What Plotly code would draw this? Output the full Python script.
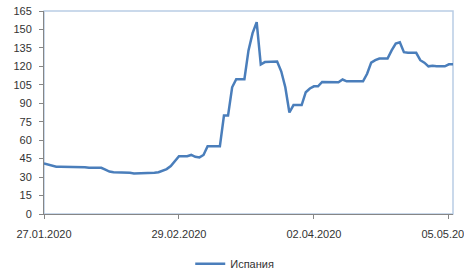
import plotly.graph_objects as go
import pandas as pd

start_date = "2020-01-27"
values = [41, 40, 39, 38.5, 38.5, 38.5, 38.5, 38.5, 38.5, 38.5,
          38, 37.5, 37.5, 37.5, 37.5, 36, 34.5, 34, 34, 34,
          34, 33.5, 33, 33, 33.5, 33.5, 33.5, 33.5, 34, 35,
          36.5, 39, 43, 47, 47, 47, 48, 46.5, 46, 48,
          55, 55, 55, 55, 80, 80, 103, 109.5, 109.5, 109.5,
          133, 147, 156, 121.5, 123.5, 123.5, 123.5, 124, 116, 103,
          82.5, 88.5, 88.5, 88.5, 99, 102, 103.8, 103.8, 107.3, 107.3,
          107.3, 107, 107, 109.3, 107.8, 107.8, 107.8, 107.8, 107.8, 114,
          123, 125, 126.4, 126.4, 126.4, 133, 138.5, 139.5, 131.5, 131,
          131, 131, 125, 123, 120, 120.5, 120, 120, 120, 121.7,
          121.7]
dates = pd.date_range(start_date, periods=len(values), freq="D")
series_name = "Испания"
tick_dates = ["2020-01-27", "2020-02-29", "2020-04-02", "2020-05-05"]
tick_labels = ["27.01.2020", "29.02.2020", "02.04.2020", "05.05.2020"]
y_ticks = list(range(0, 166, 15))

fig = go.Figure()
fig.add_trace(go.Scatter(x=dates, y=values, mode="lines", name=series_name,
                         line=dict(color="#4A7EBB", width=2.5)))

font = dict(family="Liberation Sans, Arial, sans-serif", size=11, color="#333333")
fig.update_layout(
    width=464, height=272,
    margin=dict(l=44, r=11, t=11, b=58, autoexpand=False),
    paper_bgcolor="white", plot_bgcolor="white",
    font=font,
    showlegend=True,
    legend=dict(orientation="h", xref="container", yref="container",
                x=0.41, xanchor="left", y=0.03, yanchor="middle",
                font=font, itemwidth=30),
    xaxis=dict(type="date", range=[dates[0], dates[-1]],
               tickvals=tick_dates, ticktext=tick_labels,
               showgrid=False, zeroline=False,
               showline=True, linecolor="#868686", linewidth=1,
               ticks="outside", ticklen=4, tickcolor="#868686",
               ticklabelstandoff=6, ticklabeloverflow="allow"),
    yaxis=dict(range=[0, 165], tickvals=y_ticks,
               showgrid=False, zeroline=False,
               showline=True, linecolor="#868686", linewidth=1,
               ticks="outside", ticklen=4, tickcolor="#868686",
               ticklabelstandoff=5),
)
fig.add_shape(type="rect", xref="paper", yref="paper", x0=0, x1=1, y0=0, y1=1,
              line=dict(color="#B9CDE5", width=1.5), layer="below")
fig.write_html("out.html",
               config={"displayModeBar": False},
               post_script="document.body.style.margin='0';document.body.style.padding='0';document.body.style.overflow='hidden';")
